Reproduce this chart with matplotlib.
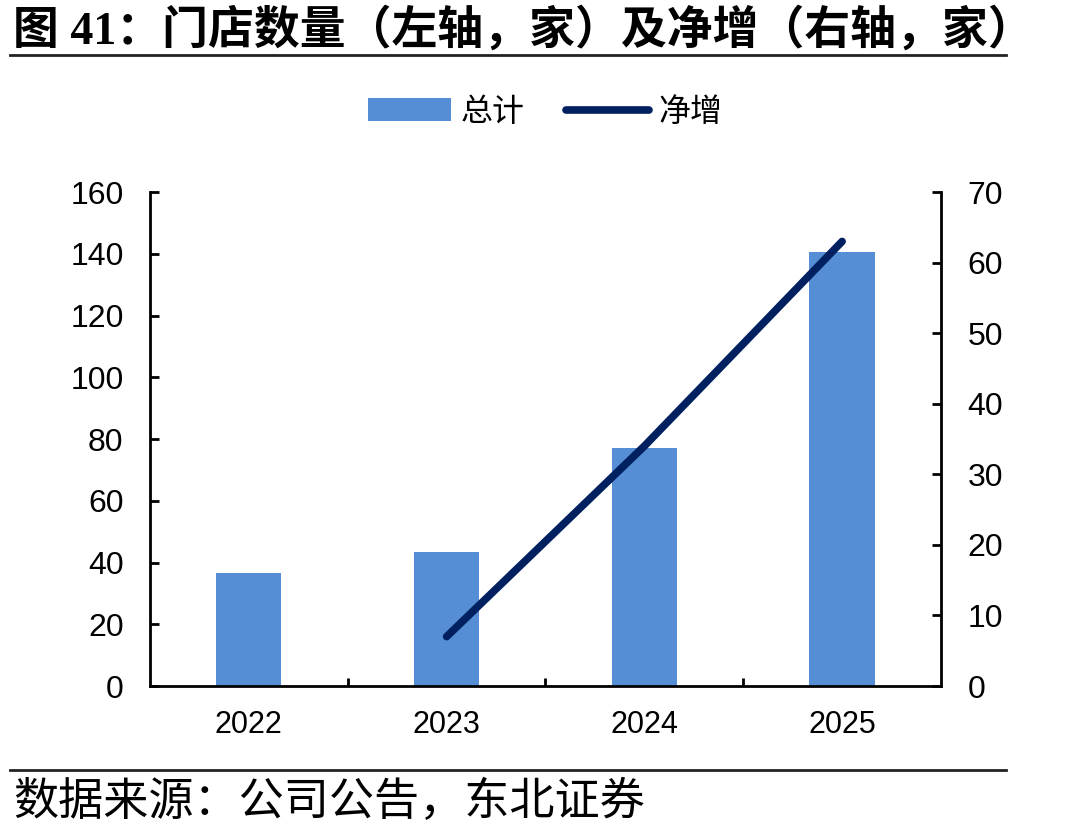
import numpy as np
import matplotlib
matplotlib.use("Agg")
import matplotlib.pyplot as plt
from matplotlib.lines import Line2D
from matplotlib.patches import Patch

plt.rcParams['font.family'] = ['Liberation Sans', 'Noto Sans CJK SC']

# data
years = ['2022', '2023', '2024', '2025']
total = [36.5, 43.5, 77, 140.5]
net_years = ['2023', '2024', '2025']
net_add = [7, 34, 63]

bar_color = '#558ED5'
line_color = '#002060'

fig = plt.figure(figsize=(10.9, 8.36), dpi=100)
ax = fig.add_axes([0.1376, 0.1794, 0.7257, 0.5909])
ax2 = ax.twinx()

x = np.arange(len(years))
ax.bar(x, total, width=0.33, color=bar_color, zorder=2)
net_x = [years.index(y) for y in net_years]
ax2.plot(net_x, net_add, color=line_color, lw=5.5, solid_capstyle='round', zorder=3)

ax.set_xlim(-0.5, len(years) - 0.5)
ax.set_ylim(0, 160)
ax.set_yticks(np.arange(0, 161, 20))
ax2.set_ylim(0, 70)
ax2.set_yticks(np.arange(0, 71, 10))

ax.set_xticks(x)
ax.set_xticklabels(years)
ax.set_xticks(np.arange(0.5, len(years) - 1, 1), minor=True)
ax.tick_params(axis='x', which='major', length=0, labelsize=22, pad=17)
ax.tick_params(axis='x', which='minor', direction='in', length=6, width=2)
ax.tick_params(axis='y', direction='in', length=6.5, width=2, labelsize=23, pad=19)
ax2.tick_params(axis='y', direction='in', length=6.5, width=2, labelsize=23, pad=19)

for a in (ax, ax2):
    a.spines['top'].set_visible(False)
    for s in ('left', 'right', 'bottom'):
        a.spines[s].set_linewidth(2)
ax.spines['right'].set_visible(False)
ax2.spines['left'].set_visible(False)
ax2.spines['bottom'].set_visible(False)

# legend
handles = [Patch(facecolor=bar_color, edgecolor='none'),
           Line2D([0], [0], color=line_color, lw=5.5, solid_capstyle='round')]
fig.legend(handles, ['总计', '净增'], loc='center', bbox_to_anchor=(0.5, 0.865),
           ncol=2, frameon=False, fontsize=23, handlelength=2.6, handleheight=0.7,
           handletextpad=0.3, columnspacing=1.3)

# title and source with rules
fig.text(0.012, 0.963, '图 41：门店数量（左轴，家）及净增（右轴，家）',
         fontsize=33, fontweight='bold', ha='left', va='center',
         family=['Liberation Serif', 'Noto Sans CJK SC'])
fig.add_artist(Line2D([0.009, 0.923], [0.934, 0.934], color='#222222', lw=2))
fig.add_artist(Line2D([0.009, 0.923], [0.079, 0.079], color='#222222', lw=2))
fig.text(0.012, 0.041, '数据来源：公司公告，东北证券', fontsize=32.5,
         ha='left', va='center', family=['Noto Sans CJK SC'])

fig.savefig('out.png', dpi=100)
